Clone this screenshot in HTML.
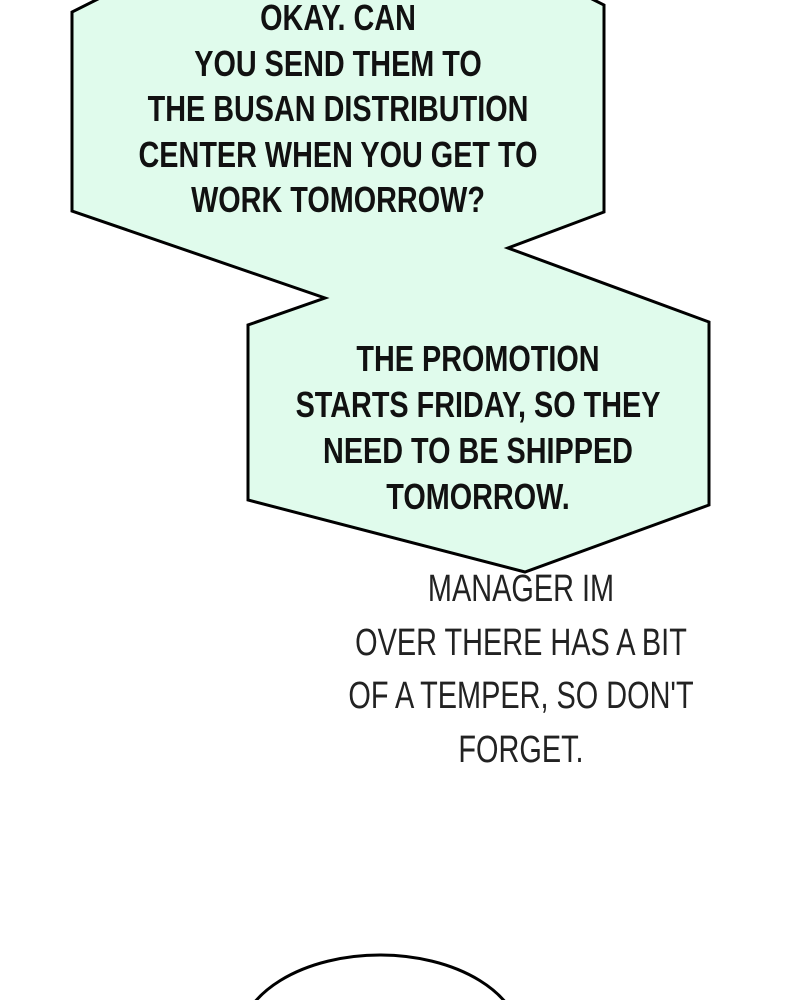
<!DOCTYPE html>
<html><head><meta charset="utf-8"><style>
html,body{margin:0;padding:0;background:#fff;width:800px;height:1000px;overflow:hidden;position:relative}
svg{position:absolute;left:0;top:0}
.t{position:absolute;font-family:"Liberation Sans",sans-serif;color:#111;text-align:center;white-space:nowrap;transform-origin:center center}
.b{font-weight:bold;font-size:36px;transform:scaleX(0.80)}
.l{font-weight:normal;font-size:38px;transform:scaleX(0.76);color:#222}
</style></head><body>
<svg width="800" height="1000" viewBox="0 0 800 1000">
<polygon points="100,-2 590,-2 604,5 604,212 508,248 709,322 709,505 525,572 248,500 248,325 325,298 72,211 72,12" fill="#e0fbec" stroke="#000" stroke-width="3" stroke-linejoin="miter"/>
<ellipse cx="380" cy="1042" rx="141" ry="87" fill="#fff" stroke="#000" stroke-width="3"/>
</svg>
<div class="t b" style="left:38px;width:600px;top:-5px;line-height:45.5px">OKAY. CAN<br>YOU SEND THEM TO<br>THE BUSAN DISTRIBUTION<br>CENTER WHEN YOU GET TO<br>WORK TOMORROW?</div>
<div class="t b" style="left:178px;width:600px;top:336px;line-height:46px">THE PROMOTION<br>STARTS FRIDAY, SO THEY<br>NEED TO BE SHIPPED<br>TOMORROW.</div>
<div class="t l" style="left:221px;width:600px;top:563px;line-height:53.5px">MANAGER IM<br>OVER THERE HAS A BIT<br>OF A TEMPER, SO DON'T<br>FORGET.</div>
</body></html>
